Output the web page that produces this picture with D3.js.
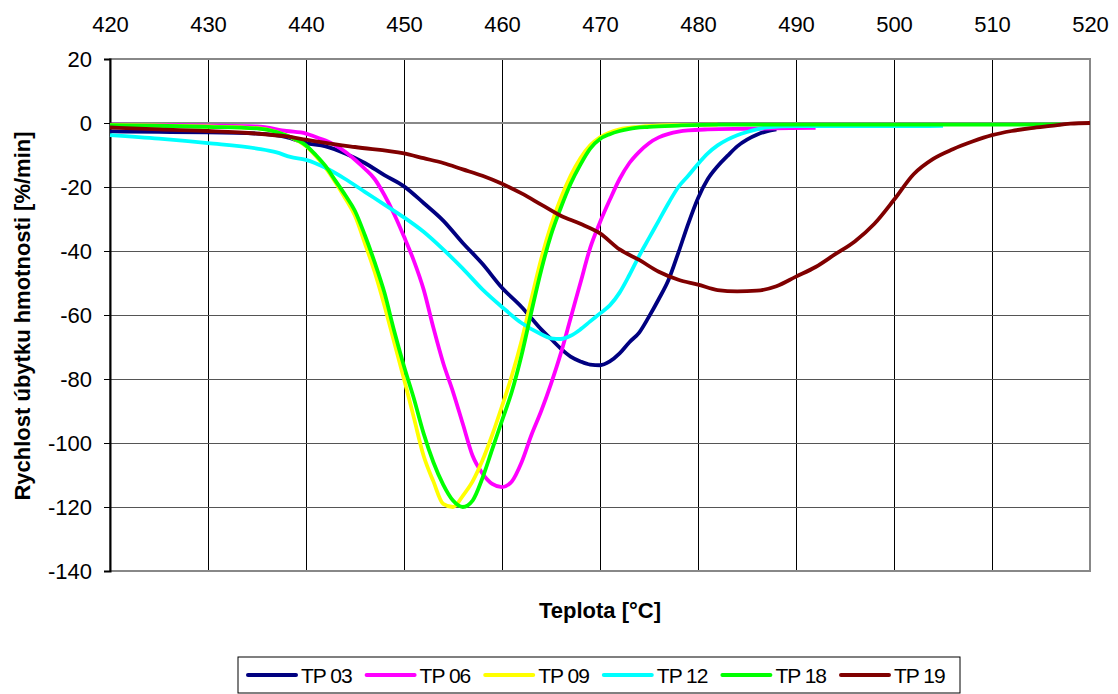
<!DOCTYPE html>
<html lang="cs">
<head>
    <meta charset="utf-8"/>
    <title>Rychlost úbytku hmotnosti</title>
    <script src="https://d3js.org/d3.v7.min.js"></script>
    <style>
        body { margin: 0; background: #fff; }
        text { font-family: "Liberation Sans", Arial, sans-serif; }
    </style>
</head>
<body>
<div id="viz">
    <svg width="1118" height="694"></svg>
</div>

<script type="text/javascript">

    // ticks of the axes
    const xTicks = [420, 430, 440, 450, 460, 470, 480, 490, 500, 510, 520];
    const yTicks = [20, 0, -20, -40, -60, -80, -100, -120, -140];

    // series names and colours
    const seriesNames = ["TP 03", "TP 06", "TP 09", "TP 12", "TP 18", "TP 19"];
    const seriesColors = ["#000080", "#ff00ff", "#ffff00", "#00ffff", "#00ff00", "#800000"];

    // [teplota °C, rychlost %/min]
    const tp03 = [[420, -2.6], [425, -2.8], [430, -2.9], [435, -3.3], [438, -4.4], [440, -6.3], [442, -7.3],
        [444, -9.5], [446, -12.5], [448, -16.3], [450, -19.8], [452, -25], [454, -30.5], [456, -37.5],
        [458, -44], [460, -51.5], [462, -57.5], [463, -61], [464, -64.5], [465, -67.5], [466, -70.5],
        [467, -73], [468, -74.5], [469, -75.5], [470, -75.7], [471, -74.5], [472, -72], [473, -68.5],
        [474, -65.5], [475, -60.5], [476, -55], [477, -49], [478, -40.5], [479, -31.5], [480, -23.5],
        [481, -17.5], [482, -13.5], [483, -10.3], [484, -7.3], [485, -5.2], [486, -3.7], [487, -2.6], [488, -2]];

    const tp06 = [[420, -0.5], [425, -0.6], [430, -0.8], [435, -1.1], [438, -2.5], [440, -3.3], [441, -4.4],
        [442, -5.5], [443, -7], [444, -9], [445, -11.5], [446, -14.3], [447, -17.5], [448, -22.5],
        [449, -28.5], [450, -35.5], [451, -43], [452, -52], [453, -64], [454, -75], [455, -84], [456, -94],
        [457, -104], [458, -109.5], [459, -112.8], [460, -113.8], [461, -112], [462, -106], [463, -97.5],
        [464, -90], [465, -81.5], [466, -72], [467, -61], [468, -50], [469, -39], [470, -31], [471, -24],
        [472, -17.5], [473, -12.5], [474, -9], [475, -6.3], [476, -4.5], [477, -3.4], [478, -2.7],
        [479, -2.3], [481, -2], [485, -1.8], [492, -1.5]];

    const tp09 = [[420, -0.6], [430, -1.1], [435, -1.6], [437, -2.8], [438.4, -4.4], [440, -7.2], [441, -10.3],
        [442, -14], [443, -18.5], [444, -23.5], [445, -29], [446, -37.5], [447, -46.5], [448, -57],
        [449, -68.5], [450, -80], [451, -92], [452, -104], [453, -112], [454, -119], [455, -120],
        [456, -116.5], [457, -112], [458, -105.5], [459, -97.5], [460, -88.5], [461, -79], [462, -68],
        [463, -55], [464, -42.5], [465, -32], [466, -23.5], [467, -16.5], [468, -11], [469, -7],
        [470, -4.5], [471, -3], [472, -2], [474, -1.2], [477, -0.7], [482, -0.5]];

    const tp12 = [[420, -3.8], [425, -4.9], [430, -6.3], [435, -8], [437, -9.2], [438.4, -10.6], [440, -11.5],
        [442, -14], [444, -17.5], [446, -21.5], [448, -25.5], [450, -29.5], [452, -34], [454, -39.5],
        [456, -45.5], [458, -52], [460, -57.5], [462, -62.5], [464, -66], [465, -67.3], [466, -67.5],
        [467, -66.5], [468, -64.5], [469, -62], [470, -59.5], [471, -57], [472, -53], [473, -47.5],
        [474, -41.5], [475, -36], [476, -30.5], [477, -25], [478, -20], [479, -16.5], [480, -12.8],
        [481, -9.5], [482, -7], [483, -5.2], [484, -3.8], [485, -2.8], [486, -2], [487, -1.4], [490, -1],
        [495, -1], [500, -1], [505, -0.9]];

    const tp18 = [[420, -0.7], [430, -1.2], [435, -1.7], [437, -2.8], [438.4, -4.4], [440, -7], [441, -10],
        [442, -13.5], [443, -18], [444, -22.5], [445, -27.5], [446, -35], [447, -43.5], [448, -53],
        [449, -65], [450, -76], [451, -86], [452, -97], [453, -106], [454, -113], [455, -118], [456, -120],
        [457, -118], [458, -111], [459, -102], [460, -93], [461, -84], [462, -72.5], [463, -59], [464, -46],
        [465, -35], [466, -26.5], [467, -19], [468, -13], [469, -8], [470, -5], [471, -3.5], [472, -2.5],
        [473, -1.8], [475, -1.2], [478, -0.8], [482, -0.5], [490, -0.5], [500, -0.5], [510, -0.5], [517, -0.4]];

    const tp19 = [[420, -1.4], [425, -2], [430, -2.5], [435, -3.3], [438, -4.2], [440, -5.2], [442, -6.2],
        [445, -7.5], [450, -9.5], [452, -11], [454, -12.5], [456, -14.5], [458, -16.5], [460, -19],
        [462, -22], [464, -25.5], [466, -29], [468, -31.5], [470, -34.5], [472, -39.5], [474, -42.8],
        [476, -46.5], [478, -49], [480, -50.5], [482, -52.2], [484, -52.6], [486, -52.4], [488, -51],
        [490, -48], [492, -45], [494, -41], [496, -37], [498, -31.5], [500, -24], [502, -16], [504, -11.2],
        [506, -8.2], [508, -5.8], [510, -3.8], [512, -2.5], [514, -1.6], [516, -0.9], [518, -0.2], [520, 0]];

    const seriesData = [tp03, tp06, tp09, tp12, tp18, tp19];

    // plot area
    const plotLeft = 110, plotRight = 1090, plotTop = 59, plotBottom = 571;

    const x = d3.scaleLinear().domain([420, 520]).range([plotLeft, plotRight]);
    const y = d3.scaleLinear().domain([-140, 20]).range([plotBottom, plotTop]);

    const svg = d3.select("svg");

    // vertical grid lines (black)
    svg.append("g")
        .attr("transform", "translate(0," + plotTop + ")")
        .call(d3.axisBottom(x).tickValues(xTicks).tickSize(plotBottom - plotTop).tickFormat(""))
        .call(g => g.select(".domain").remove())
        .call(g => g.selectAll(".tick line").attr("stroke", "#000").attr("stroke-width", 1));

    // horizontal grid lines (dark grey)
    svg.append("g")
        .attr("transform", "translate(" + plotLeft + ",0)")
        .call(d3.axisRight(y).tickValues(yTicks).tickSize(plotRight - plotLeft).tickFormat(""))
        .call(g => g.select(".domain").remove())
        .call(g => g.selectAll(".tick line").attr("stroke", "#555").attr("stroke-width", 1));

    // plot border
    svg.append("rect")
        .attr("x", plotLeft).attr("y", plotTop)
        .attr("width", plotRight - plotLeft).attr("height", plotBottom - plotTop)
        .attr("fill", "none")
        .attr("stroke", "#888")
        .attr("stroke-width", 2);

    // zero line (category axis crosses at 0)
    svg.append("line")
        .attr("x1", plotLeft).attr("x2", plotRight)
        .attr("y1", y(0)).attr("y2", y(0))
        .attr("stroke", "#888")
        .attr("stroke-width", 2);

    // y axis with labels, plain hyphen as minus like the original
    svg.append("g")
        .attr("transform", "translate(" + plotLeft + ",0)")
        .call(d3.axisLeft(y).tickValues(yTicks).tickSize(6).tickPadding(12).tickFormat(d => String(d)))
        .call(g => g.select(".domain").attr("stroke", "#000").attr("stroke-width", 2))
        .call(g => g.selectAll(".tick line").attr("stroke", "#000"))
        .call(g => g.selectAll("text")
            .style("font-family", "Liberation Sans, Arial, sans-serif")
            .style("font-size", "22px")
            .attr("fill", "#000"));

    // x axis labels on top
    svg.append("g")
        .attr("transform", "translate(0," + plotTop + ")")
        .call(d3.axisTop(x).tickValues(xTicks).tickSize(0).tickPadding(27).tickFormat(d => String(d)))
        .call(g => g.select(".domain").remove())
        .call(g => g.selectAll("text")
            .style("font-family", "Liberation Sans, Arial, sans-serif")
            .style("font-size", "22px")
            .attr("fill", "#000"));

    // lines
    const line = d3.line()
        .x(d => x(d[0]))
        .y(d => y(d[1]))
        .curve(d3.curveMonotoneX);

    seriesData.forEach((data, i) => {
        svg.append("path")
            .attr("d", line(data))
            .attr("fill", "none")
            .attr("stroke", seriesColors[i])
            .attr("stroke-width", 3.8)
            .attr("stroke-linejoin", "round");
    });

    // axis titles
    svg.append("text")
        .attr("x", 600).attr("y", 618)
        .attr("text-anchor", "middle")
        .style("font-size", "22px")
        .style("font-weight", "bold")
        .text("Teplota [°C]");

    svg.append("text")
        .attr("transform", "translate(30,316) rotate(-90)")
        .attr("text-anchor", "middle")
        .style("font-size", "22px")
        .style("font-weight", "bold")
        .text("Rychlost úbytku hmotnosti [%/min]");

    // legend
    const legend = svg.append("g").attr("transform", "translate(238,657)");
    legend.append("rect")
        .attr("width", 722).attr("height", 36)
        .attr("fill", "#fff")
        .attr("stroke", "#000")
        .attr("stroke-width", 1);

    seriesNames.forEach((name, i) => {
        const g = legend.append("g").attr("transform", "translate(" + (8 + i * 118.6) + ",18)");
        g.append("line")
            .attr("x1", 2).attr("x2", 50)
            .attr("stroke", seriesColors[i])
            .attr("stroke-width", 4)
            .attr("stroke-linecap", "round");
        g.append("text")
            .attr("x", 55).attr("y", 7.5)
            .style("font-size", "21px")
            .style("letter-spacing", "-1px")
            .text(name);
    });

</script>
</body>
</html>
